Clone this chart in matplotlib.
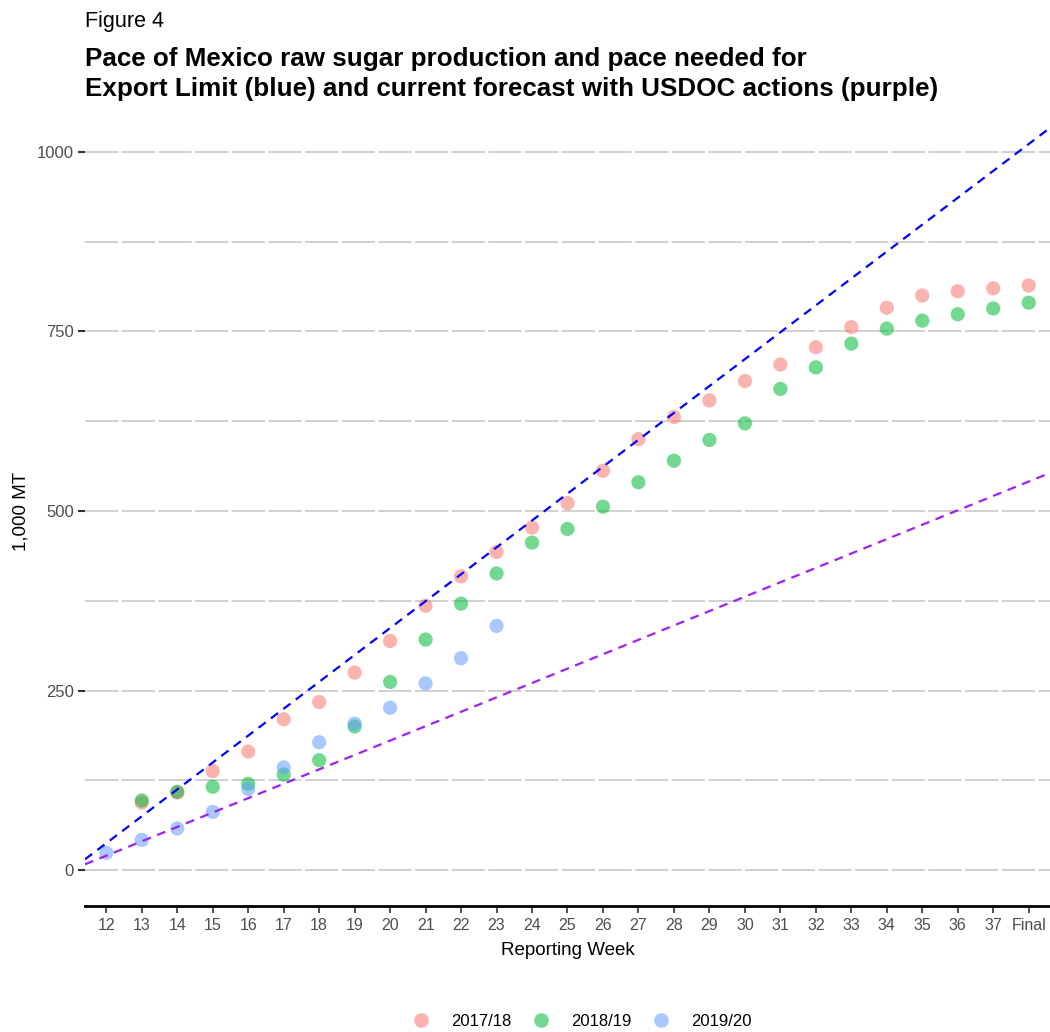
import matplotlib
matplotlib.use("Agg")
import matplotlib.pyplot as plt
from matplotlib.lines import Line2D

plt.rcParams['font.family'] = ['Liberation Sans', 'DejaVu Sans']

weeks = [str(w) for w in range(12, 38)] + ["Final"]

# values (1,000 MT) by week label
s1718_weeks = [str(w) for w in range(13, 38)] + ["Final"]
s1718 = [94, 108, 138, 165, 210, 234, 275, 319, 368, 409, 443, 477, 511, 556,
         600, 631, 654, 681, 704, 728, 756, 783, 800, 806, 810, 814]
s1819_weeks = [str(w) for w in range(13, 38)] + ["Final"]
s1819 = [97, 109, 116, 120, 133, 153, 200, 262, 321, 371, 413, 456, 475, 506,
         540, 570, 599, 622, 670, 700, 733, 754, 765, 774, 782, 790]
s1920_weeks = [str(w) for w in range(12, 24)]
s1920 = [24, 42, 58, 81, 113, 143, 178, 204, 226, 260, 295, 340]

series_names = ["2017/18", "2018/19", "2019/20"]
series_colors = ["#F8766D", "#00BA38", "#619CFF"]

# pace lines: start at 0 the week before week 12, reach target at Final
export_limit_final = 1011
usdoc_forecast_final = 541

fig = plt.figure(figsize=(10.5, 10.32), dpi=100)
ax = fig.add_axes([85/1050, 1 - 906/1032, 965/1050, (906 - 116)/1032])

idx = {w: i for i, w in enumerate(weeks)}
alpha = 0.55
for name, col, wk, vals in zip(series_names, series_colors,
                               [s1718_weeks, s1819_weeks, s1920_weeks],
                               [s1718, s1819, s1920]):
    ax.scatter([idx[w] for w in wk], vals, s=105, color=col, alpha=alpha,
               edgecolors='none', zorder=3)

n = len(weeks)
ax.axline((-1, 0), slope=export_limit_final / n, color="#0000FF",
          linestyle=(0, (4, 3)), linewidth=1.6, zorder=4)
ax.axline((-1, 0), slope=usdoc_forecast_final / n, color="#A020F0",
          linestyle=(0, (4, 3)), linewidth=1.6, zorder=4)

ax.set_xlim(-0.6, n - 1 + 0.6)
ax.set_ylim(-50, 1050)
ax.set_xticks(range(n))
ax.set_xticklabels(weeks)
ax.set_yticks([0, 250, 500, 750, 1000])

gridkw = dict(color="#c8c8c8", linestyle=(0, (20, 2)), linewidth=1.2)
for y in [0, 125, 250, 375, 500, 625, 750, 875, 1000]:
    ax.axhline(y, zorder=1, **gridkw)

for sp in ["top", "right", "left"]:
    ax.spines[sp].set_visible(False)
ax.spines["bottom"].set_linewidth(2)
ax.spines["bottom"].set_color("black")

ax.tick_params(axis='x', labelcolor="#4d4d4d", labelsize=11.5, length=5,
               width=1.2, pad=4, color="#333333")
ax.tick_params(axis='y', labelcolor="#4d4d4d", labelsize=12, length=5,
               width=1.5, pad=3, color="#333333")

ax.set_xlabel("Reporting Week", fontsize=13.5, color="black")
ax.xaxis.set_label_coords(0.5005, -0.046)
ax.set_ylabel("1,000 MT", fontsize=13.5, color="black")
ax.yaxis.set_label_coords(-0.058, 0.5)

fig.text(85/1050, 1 - 22/1032, "Figure 4", fontsize=15.5, va="center",
         ha="left")
fig.text(85/1050, 1 - 74/1032,
         "Pace of Mexico raw sugar production and pace needed for\n"
         "Export Limit (blue) and current forecast with USDOC actions (purple)",
         fontsize=18.7, fontweight="bold", va="center", ha="left",
         linespacing=1.35)

handles = [Line2D([], [], marker='o', linestyle='none', markersize=10.5,
                  markerfacecolor=c, markeredgecolor='none', alpha=alpha)
           for c in series_colors]
fig.legend(handles, series_names, loc="center", ncol=3,
           bbox_to_anchor=(578/1050, 1 - 1021/1032), frameon=False,
           fontsize=12, handletextpad=0.82, columnspacing=0.78,
           handlelength=2.0, borderaxespad=0, borderpad=0)

fig.savefig("out.png", dpi=100)
